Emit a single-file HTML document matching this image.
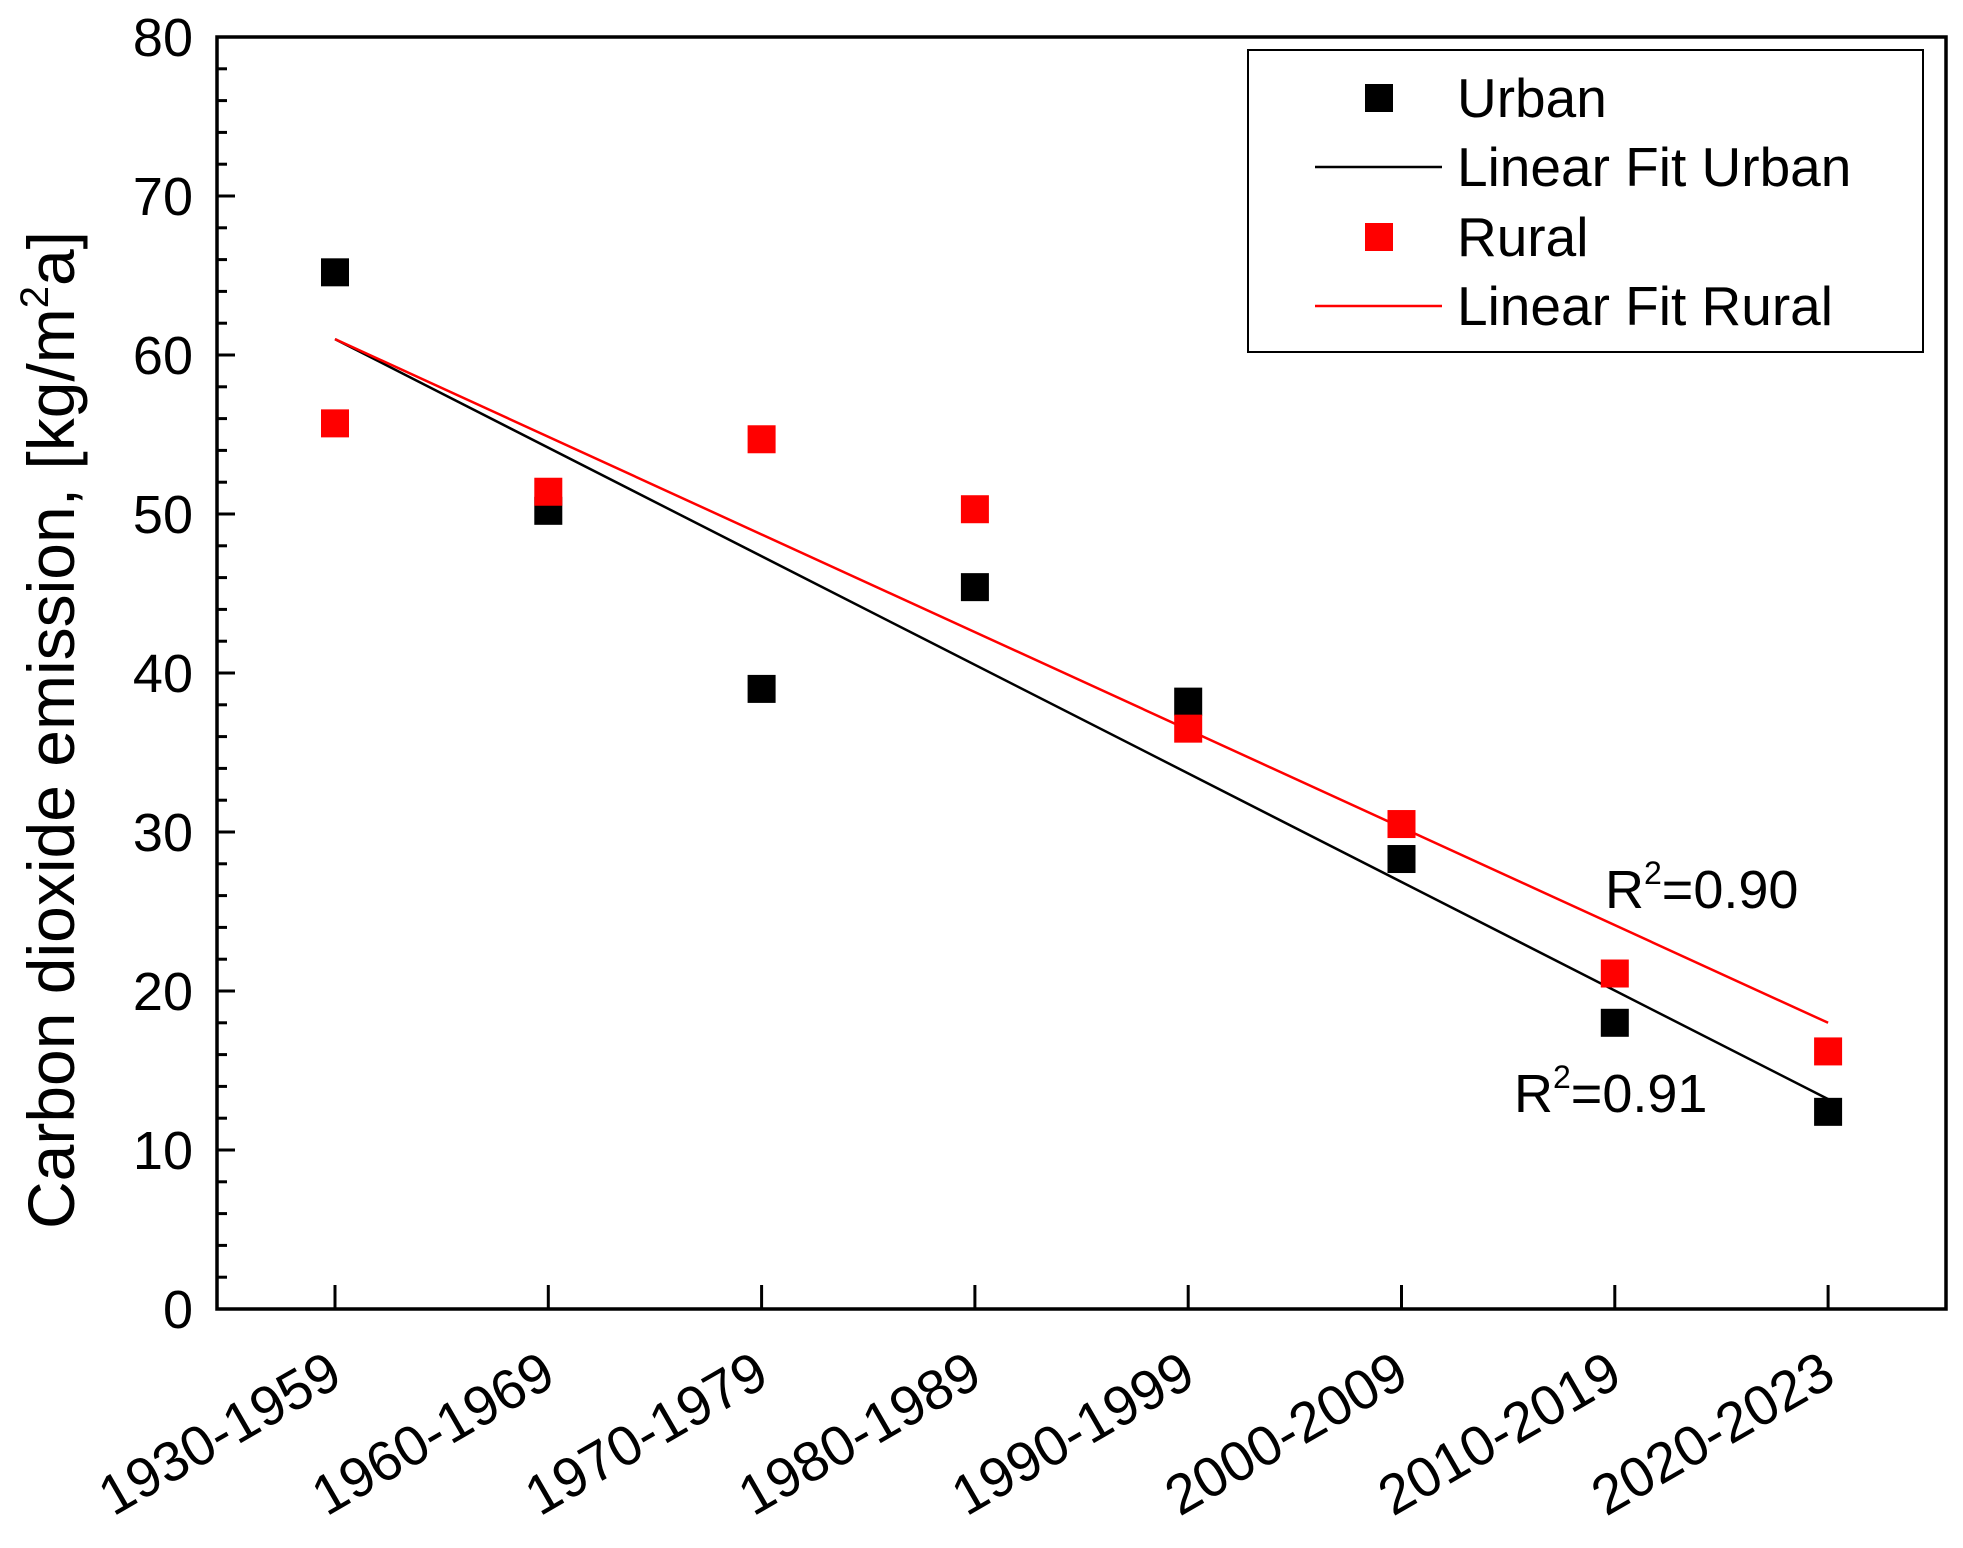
<!DOCTYPE html>
<html><head><meta charset="utf-8"><style>
html,body{margin:0;padding:0;background:#fff;}
svg text{font-family:"Liberation Sans",Arial,sans-serif;}
</style></head><body>
<svg id="chart" width="1963" height="1543" viewBox="0 0 1963 1543" xmlns="http://www.w3.org/2000/svg">
<rect x="0" y="0" width="1963" height="1543" fill="#fff"/>
<g id="plot"></g>
</svg>
<script>
const categories = ["1930-1959","1960-1969","1970-1979","1980-1989","1990-1999","2000-2009","2010-2019","2020-2023"];
const urbanValues = [65.2, 50.2, 39.0, 45.4, 38.2, 28.3, 18.0, 12.4];
const ruralValues = [55.7, 51.4, 54.7, 50.3, 36.5, 30.5, 21.1, 16.2];
const urbanFit = [61.0, 13.2];
const ruralFit = [61.0, 18.0];
const yTicks = [0,10,20,30,40,50,60,70,80];
const r2Urban = "0.91";
const r2Rural = "0.90";

const L=217,R=1946,T=37,B=1309;
const yMin=0,yMax=80;
function yScale(v){return B-(v-yMin)/(yMax-yMin)*(B-T);}
const x0=335, step=213.3;
function xScale(i){return x0+i*step;}
const NS="http://www.w3.org/2000/svg";
const g=document.getElementById('plot');
function mk(tag,attrs,parent){const e=document.createElementNS(NS,tag);for(const k in attrs)e.setAttribute(k,attrs[k]);(parent||g).appendChild(e);return e;}

function fitLine(fit,color,name){
  const l=mk('line',{x1:xScale(0),y1:yScale(fit[0]),x2:xScale(categories.length-1),y2:yScale(fit[1]),stroke:color,'stroke-width':2.5});
  
  
}
fitLine(urbanFit,'#000','urban-fit-line');
fitLine(ruralFit,'#ff0000','rural-fit-line');

const ms=28;
function pts(vals,color,name){
  vals.forEach((v,i)=>{
    const r=mk('rect',{x:xScale(i)-ms/2,y:yScale(v)-ms/2,width:ms,height:ms,fill:color});
    
    
  });
}
pts(urbanValues,'#000','urban-point');
pts(ruralValues,'#ff0000','rural-point');

const frame=mk('rect',{x:L,y:T,width:R-L,height:B-T,fill:'none',stroke:'#000','stroke-width':3.5});



for(let v=0;v<=80;v+=2){
  const major=v%10===0;
  const t=mk('line',{x1:L,x2:L+(major?18:10),y1:yScale(v),y2:yScale(v),stroke:'#000','stroke-width':3});
  
  
}
yTicks.forEach(v=>{
  const t=mk('text',{x:L-24,y:yScale(v)+19,'text-anchor':'end','font-size':54,fill:'#000'});
  t.textContent=v;
  
  
});
categories.forEach((c,i)=>{
  const t=mk('line',{x1:xScale(i),x2:xScale(i),y1:B,y2:B-24,stroke:'#000','stroke-width':3});
  
  
  const x=xScale(i)+10,y=B+74;
  const lb=mk('text',{x:x,y:y,'text-anchor':'end','font-size':56,fill:'#000',transform:`rotate(-30 ${x} ${y})`});
  lb.textContent=c;
  
  
});
const yt=mk('text',{x:0,y:0,'text-anchor':'middle','font-size':66,fill:'#000',transform:'translate(74 730) rotate(-90)'});
yt.innerHTML='Carbon dioxide emission, [kg/m<tspan font-size="40" dy="-26">2</tspan><tspan dy="26">a]</tspan>';



function r2(x,y,val,name){
  const t=mk('text',{x:x,y:y,'font-size':54,fill:'#000'});
  t.innerHTML='R<tspan font-size="32" dy="-24">2</tspan><tspan dy="24">='+val+'</tspan>';
  
  
}
r2(1605,908,r2Rural,'r2-rural-label');
r2(1514,1112,r2Urban,'r2-urban-label');

const lg=mk('g',{});


const lb=mk('rect',{x:1248,y:50,width:675,height:302,fill:'#fff',stroke:'#000','stroke-width':2},lg);


const entries=[["Urban","sq","#000"],["Linear Fit Urban","ln","#000"],["Rural","sq","#ff0000"],["Linear Fit Rural","ln","#ff0000"]];
const rowsY=[98,167,237,306];
entries.forEach((e,k)=>{
  const y=rowsY[k];
  let s;
  if(e[1]==='sq') s=mk('rect',{x:1379-14,y:y-14,width:28,height:28,fill:e[2]},lg);
  else s=mk('line',{x1:1315,x2:1442,y1:y,y2:y,stroke:e[2],'stroke-width':2.5},lg);
  
  
  const t=mk('text',{x:1457,y:y+19,'font-size':55,fill:'#000'},lg);
  t.textContent=e[0];
  
  
});
</script>
</body></html>
